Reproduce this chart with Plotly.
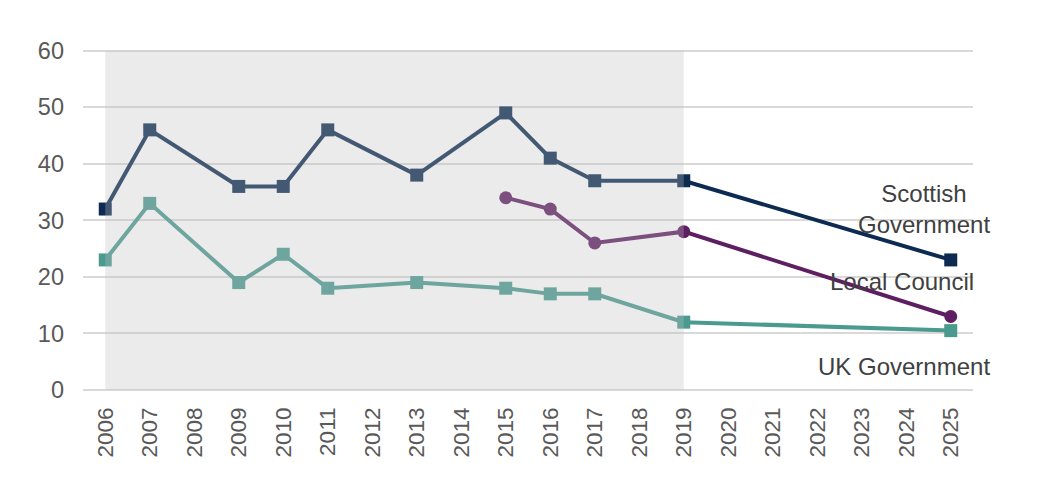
import plotly.graph_objects as go

years_all = list(range(2006, 2026))

sg_years = [2006, 2007, 2009, 2010, 2011, 2013, 2015, 2016, 2017, 2019, 2025]
sg_vals = [32, 46, 36, 36, 46, 38, 49, 41, 37, 37, 23]

lc_years = [2015, 2016, 2017, 2019, 2025]
lc_vals = [34, 32, 26, 28, 13]

uk_years = [2006, 2007, 2009, 2010, 2011, 2013, 2015, 2016, 2017, 2019, 2025]
uk_vals = [23, 33, 19, 24, 18, 19, 18, 17, 17, 12, 10.5]

shade_start, shade_end = 2006, 2019

fig = go.Figure()

fig.add_trace(go.Scatter(x=uk_years, y=uk_vals, mode="lines+markers",
                         line=dict(color="#4a9a90", width=4),
                         marker=dict(symbol="square", size=13, color="#4a9a90"),
                         name="UK Government", showlegend=False))
fig.add_trace(go.Scatter(x=lc_years, y=lc_vals, mode="lines+markers",
                         line=dict(color="#5e1f62", width=4),
                         marker=dict(symbol="circle", size=13, color="#5e1f62"),
                         name="Local Council", showlegend=False))
fig.add_trace(go.Scatter(x=sg_years, y=sg_vals, mode="lines+markers",
                         line=dict(color="#0d2b52", width=4),
                         marker=dict(symbol="square", size=13, color="#0d2b52"),
                         name="Scottish Government", showlegend=False))

fig.add_shape(type="rect", x0=shade_start, x1=shade_end, y0=0, y1=60,
              xref="x", yref="y", layer="above",
              fillcolor="rgba(190,190,190,0.31)", line=dict(width=0))

ann_font = dict(family="Liberation Sans, Arial, sans-serif", size=24, color="#404040")
fig.add_annotation(x=2024.4, y=32.0, text="Scottish<br>Government", showarrow=False,
                   xanchor="center", yanchor="middle", align="center", font=ann_font)
fig.add_annotation(x=2023.9, y=19.1, text="Local Council", showarrow=False,
                   xanchor="center", yanchor="middle", font=ann_font)
fig.add_annotation(x=2023.95, y=4.1, text="UK Government", showarrow=False,
                   xanchor="center", yanchor="middle", font=ann_font)

fig.update_layout(
    width=1056, height=502,
    margin=dict(l=83, r=83, t=49, b=112),
    paper_bgcolor="white", plot_bgcolor="white",
    font=dict(family="Liberation Sans, Arial, sans-serif", color="#595959"),
    xaxis=dict(range=[2005.5, 2025.5], tickvals=years_all, ticktext=[str(y) for y in years_all],
               tickangle=-90, tickfont=dict(size=22.5, color="#595959"),
               showgrid=False, zeroline=False, showline=False, ticks="",
               ticklabelstandoff=12),
    yaxis=dict(range=[0, 60.3], tickvals=[0, 10, 20, 30, 40, 50, 60],
               tickfont=dict(size=23.5, color="#595959"),
               showgrid=True, gridcolor="#d9d9d9", gridwidth=1.5,
               zeroline=True, zerolinecolor="#d9d9d9", zerolinewidth=1.5,
               showline=False, ticks="", ticklabelstandoff=18),
)

fig.write_html("out.html")
